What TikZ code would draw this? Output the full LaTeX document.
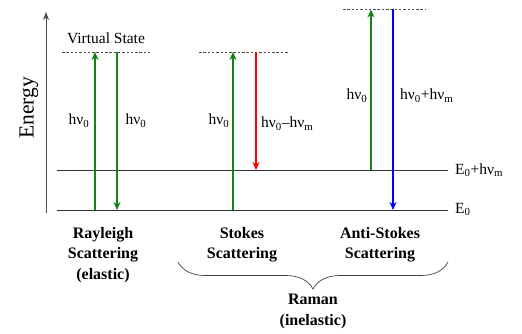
\documentclass[tikz,border=0pt]{standalone}
\usepackage{fontspec}
\setmainfont{Liberation Serif}
\usetikzlibrary{arrows.meta, decorations.pathreplacing}
\definecolor{ramangreen}{RGB}{20,130,20}
\tikzset{%
    level/.style={draw=black!80, line width=0.8pt},
    virtual/.style={draw=black!70, dashed, line width=0.6pt, dash pattern=on 2.5pt off 1.8pt},
    photon/.style={line width=1.6pt, -{Stealth[length=8pt,width=7pt]}},
    lbl/.style={font=\fontsize{15.5}{17}\selectfont, inner sep=0pt},
    caption/.style={font=\fontsize{16}{20.5}\selectfont\bfseries, align=center, inner sep=0pt},
}
\newcommand{\hnu}[1]{hν\textsubscript{#1}}

\begin{document}
\begin{tikzpicture}[x=1pt,y=-1pt]
	\useasboundingbox (0,0) rectangle (522,334);

	% energy axis
	\coordinate(ax0) at (46,213);
	\coordinate(ax1) at (46,12);
	\draw[black!70, line width=0.8pt, -{Stealth[length=8pt,width=6pt]}] (ax0) -- (ax1);
	\node[rotate=90, font=\fontsize{21.5}{24}\selectfont](energy) at (29,108) {Energy};

	% levels
	\coordinate(g0) at (57,210);
	\coordinate(g1) at (448,210);
	\coordinate(m0) at (57,170);
	\coordinate(m1) at (448,170);
	\draw[level] (g0) -- (g1);
	\draw[level] (m0) -- (m1);
	\node[lbl, anchor=base west](E0) at (455,213) {E\textsubscript{0}};
	\node[lbl, anchor=base west](E0m) at (455,174) {E\textsubscript{0}+\hnu{m}};

	% virtual states
	\coordinate(vr0) at (62,52);
	\coordinate(vr1) at (150,52);
	\coordinate(vs0) at (199,52);
	\coordinate(vs1) at (288,52);
	\coordinate(va0) at (343,9.5);
	\coordinate(va1) at (426,9.5);
	\draw[virtual] (vr0) -- (vr1);
	\draw[virtual] (vs0) -- (vs1);
	\draw[virtual] (va0) -- (va1);
	\node[lbl, anchor=base](vstate) at (106,43.5) {Virtual State};

	% Rayleigh
	\coordinate(r1b) at (95,210);
	\coordinate(r1t) at (95,52);
	\coordinate(r2t) at (117,52);
	\coordinate(r2b) at (117,210);
	\draw[photon, ramangreen] (r1b) -- (r1t);
	\draw[photon, ramangreen] (r2t) -- (r2b);
	\node[lbl, anchor=base](r1l) at (79,125) {\hnu{0}};
	\node[lbl, anchor=base](r2l) at (136,125) {\hnu{0}};

	% Stokes
	\coordinate(s1b) at (233,210);
	\coordinate(s1t) at (233,52);
	\coordinate(s2t) at (256,52);
	\coordinate(s2b) at (256,170);
	\draw[photon, ramangreen] (s1b) -- (s1t);
	\draw[photon, red] (s2t) -- (s2b);
	\node[lbl, anchor=base](s1l) at (219,125) {\hnu{0}};
	\node[lbl, anchor=base west](s2l) at (261,128) {\hnu{0}–\hnu{m}};

	% anti-Stokes
	\coordinate(a1b) at (371,170);
	\coordinate(a1t) at (371,9.5);
	\coordinate(a2t) at (393,9.5);
	\coordinate(a2b) at (393,210);
	\draw[photon, ramangreen] (a1b) -- (a1t);
	\draw[photon, blue] (a2t) -- (a2b);
	\node[lbl, anchor=base](a1l) at (357,100) {\hnu{0}};
	\node[lbl, anchor=base west](a2l) at (400,100) {\hnu{0}+\hnu{m}};

	% captions
	\node[caption, anchor=north](rayleigh) at (103,227) {Rayleigh\\Scattering\\(elastic)};
	\node[caption, anchor=north](stokes) at (242,227) {Stokes\\Scattering};
	\node[caption, anchor=north](astokes) at (380,227) {Anti-Stokes\\Scattering};

	\coordinate(br0) at (448,262);
	\coordinate(br1) at (178,262);
	\draw[black!75, line width=0.7pt, decorate, decoration={brace, amplitude=27pt}] (br0) -- (br1);
	\node[caption, anchor=north](raman) at (313,294) {Raman\\(inelastic)};
\end{tikzpicture}
\end{document}
